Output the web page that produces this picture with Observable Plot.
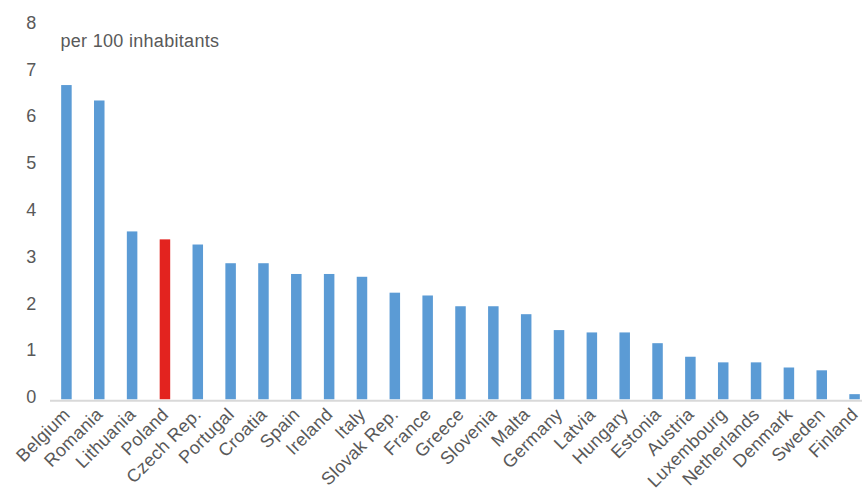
<!DOCTYPE html>
<html>
<head>
<meta charset="utf-8">
<script src="https://cdn.jsdelivr.net/npm/d3@7"></script>
<script src="https://cdn.jsdelivr.net/npm/@observablehq/plot@0.6"></script>
<style>
  html, body { margin: 0; padding: 0; background: #fff; }
  #chart svg { display: block; }
  #chart svg text { letter-spacing: 0.3px; }
</style>
</head>
<body>
<div id="chart"></div>
<script>
// Countries, ordered from highest to lowest rate
const countries = [
  "Belgium", "Romania", "Lithuania", "Poland", "Czech Rep.", "Portugal",
  "Croatia", "Spain", "Ireland", "Italy", "Slovak Rep.", "France", "Greece",
  "Slovenia", "Malta", "Germany", "Latvia", "Hungary", "Estonia", "Austria",
  "Luxembourg", "Netherlands", "Denmark", "Sweden", "Finland"
];
// Rate per 100 inhabitants
const values = [
  6.72, 6.39, 3.59, 3.42, 3.31, 2.91,
  2.91, 2.68, 2.68, 2.62, 2.28, 2.22, 1.99,
  1.99, 1.82, 1.48, 1.43, 1.43, 1.20, 0.91,
  0.79, 0.79, 0.68, 0.62, 0.11
];
const highlight = "Poland";
const yTicks = [0, 1, 2, 3, 4, 5, 6, 7, 8];
const unitLabel = "per 100 inhabitants";

const data = countries.map((c, i) => ({country: c, value: values[i]}));

const W = 862, H = 490;
const font = "'Liberation Sans', Arial, Helvetica, sans-serif";
const ink = "#595959";
const fs = 18;

const chart = Plot.plot({
  width: W,
  height: H,
  marginLeft: 50,
  marginRight: 0,
  marginTop: 25,
  marginBottom: 91,
  style: {fontFamily: font, fontSize: fs + "px", color: ink, background: "#fff"},
  // band range runs a little past the frame so the last bar sits at the edge
  x: {domain: countries, range: [50, 871], paddingInner: 0.68, paddingOuter: 0.34, align: 0.5, round: false},
  y: {domain: [0, 8], range: [399.3, 25.2]},
  marks: [
    Plot.barY(data, {
      x: "country",
      y: "value",
      fill: d => d.country === highlight ? "#E3231F" : "#5B9BD5"
    }),
    Plot.ruleY([0], {stroke: "#D9D9D9", strokeWidth: 2, dy: 1}),
    Plot.axisY(yTicks, {
      tickSize: 0,
      tickPadding: 14,
      dy: -2.5,
      fontSize: fs,
      fill: ink,
      label: null
    }),
    Plot.axisX({
      tickSize: 0,
      tickRotate: -45,
      tickPadding: 12,
      fontSize: fs,
      fill: ink,
      label: null
    }),
    Plot.text([unitLabel], {
      frameAnchor: "top-left",
      dx: 10,
      dy: 9,
      textAnchor: "start",
      fontSize: fs,
      fill: ink
    })
  ]
});

document.getElementById("chart").appendChild(chart);
</script>
</body>
</html>
